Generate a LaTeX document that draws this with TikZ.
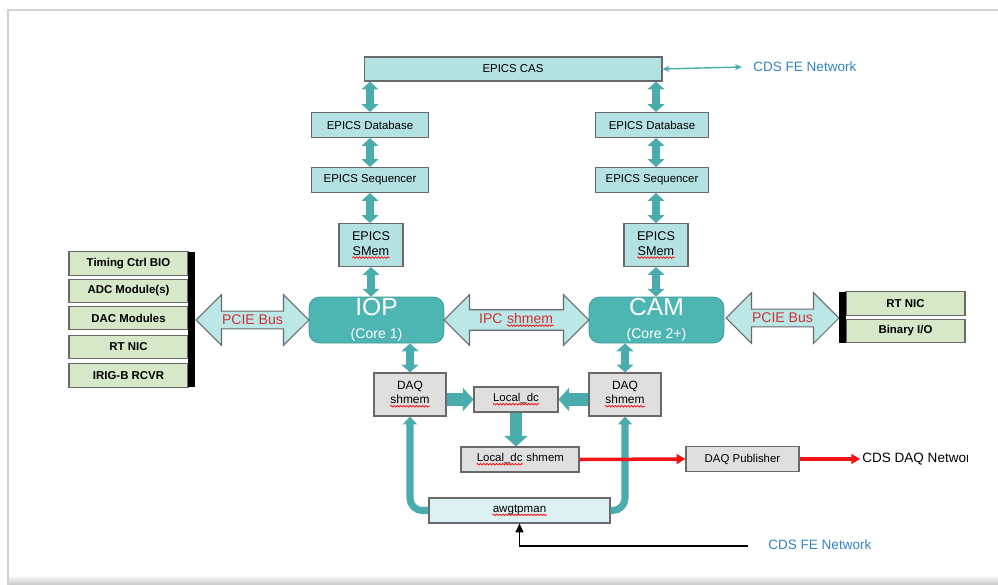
\documentclass[tikz,border=0pt]{standalone}
\usepackage{fontspec}
\setmainfont{Liberation Sans}
\usetikzlibrary{arrows.meta,shapes.arrows,decorations.pathmorphing}

\definecolor{pipeteal}{RGB}{74,172,172}
\definecolor{coreteal}{RGB}{77,181,178}
\definecolor{epicscyan}{RGB}{180,226,226}
\definecolor{buscyan}{RGB}{188,231,231}
\definecolor{awgcyan}{RGB}{221,241,243}
\definecolor{iogreen}{RGB}{214,232,200}
\definecolor{daqgray}{RGB}{223,223,223}
\definecolor{edgegray}{RGB}{105,105,105}
\definecolor{labelred}{RGB}{205,50,55}
\definecolor{netblue}{RGB}{50,130,200}
\definecolor{daqred}{RGB}{240,20,20}

% red spell-check wave under a word
\newcommand{\spellmark}[1]{\tikz[baseline=(w.base)]{\node[shape=rectangle,inner sep=0pt,draw=none,fill=none,minimum size=0pt] (w) {#1};
  \draw[red,line width=0.4pt,decorate,decoration={snake,amplitude=0.45pt,segment length=1.8pt}] ([yshift=-1.3pt]w.base west) -- ([yshift=-1.3pt]w.base east);}}

\begin{document}
\begin{tikzpicture}[x=0.02cm,y=-0.02cm,
  box/.style={draw=edgegray,line width=0.6pt,inner sep=0pt,font=\fontsize{6.5}{7.5}\selectfont},
  epics/.style={box,fill=epicscyan,minimum height=0.5cm},
  iobox/.style={box,fill=iogreen,minimum width=2.38cm,minimum height=0.47cm,font=\fontsize{6.5}{7.5}\selectfont\bfseries},
  daqbox/.style={box,fill=daqgray,align=center,minimum height=0.5cm,font=\fontsize{6.8}{8}\selectfont},
  core/.style={fill=coreteal,draw=coreteal!85!black,rounded corners=6pt,minimum width=2.7cm,minimum height=0.92cm,text=white,align=center,inner sep=0pt},
  bus/.style={double arrow,double arrow head extend=0.27cm,fill=buscyan,draw=edgegray,line width=0.6pt,minimum width=1.02cm,inner sep=1pt,text=labelred,font=\fontsize{8}{9}\selectfont},
  pipe/.style={draw=pipeteal,line width=4pt,{Triangle[width=9.5pt,length=4.5pt]}-{Triangle[width=9.5pt,length=4.5pt]}},
  fatpipe/.style={draw=pipeteal,line width=7pt,-{Triangle[width=13pt,length=6pt]}},
  feed/.style={draw=pipeteal,line width=4pt,rounded corners=7pt,-{Triangle[width=8pt,length=4.5pt]}},
  daqlink/.style={draw=daqred,line width=2pt,-{Triangle[width=5.5pt,length=5pt]}},
  net/.style={text=netblue,font=\fontsize{7.7}{9}\selectfont,anchor=west,inner sep=0pt}]
\useasboundingbox (0,0) rectangle (998,585);
% frame of the screenshot
\shade[top color=white,bottom color=black!22] (8,575) rectangle (998,585);
\draw[line width=1.4pt,black!18] (8,585) -- (8,10) -- (998,10);

% EPICS side
\node[epics,minimum width=5.96cm,minimum height=0.48cm] (cas) at (513,69) {EPICS CAS};
\node[epics,minimum width=2.34cm] (dbL) at (370,125) {EPICS Database};
\node[epics,minimum width=2.34cm] (seqL) at (370,180) {EPICS Sequencer};
\node[epics,minimum width=1.28cm,minimum height=0.86cm,align=center,font=\fontsize{7.2}{8.6}\selectfont] (smemL) at (371,245) {EPICS\\\spellmark{SMem}};
\node[epics,minimum width=2.26cm] (dbR) at (652,125) {EPICS Database};
\node[epics,minimum width=2.26cm] (seqR) at (652,180) {EPICS Sequencer};
\node[epics,minimum width=1.28cm,minimum height=0.86cm,align=center,font=\fontsize{7.2}{8.6}\selectfont] (smemR) at (656,245) {EPICS\\\spellmark{SMem}};
\node[net] (fetop) at (753,67) {CDS FE Network};

% cores
\node[core] (iop) at (376.5,320) {{\fontsize{14}{14}\selectfont IOP}\\[1pt]{\fontsize{8}{9}\selectfont (Core 1)}};
\node[core] (cam) at (656.5,320) {{\fontsize{14}{14}\selectfont CAM}\\[1pt]{\fontsize{8}{9}\selectfont (Core 2+)}};
\node[bus,minimum height=2.26cm] (pcieL) at (252.5,320) {PCIE Bus};
\node[bus,minimum height=2.9cm] (ipc) at (516.5,320) {IPC \spellmark{shmem}};
\node[bus,minimum height=2.26cm] (pcieR) at (782.5,318) {PCIE Bus};

% I/O cards
\node[iobox] (timing) at (128.5,263.5) {Timing Ctrl BIO};
\node[iobox] (adc) at (128.5,291) {ADC Module(s)};
\node[iobox] (dac) at (128.5,318) {DAC Modules};
\node[iobox] (nicL) at (128.5,347) {RT NIC};
\node[iobox] (irig) at (128.5,375.5) {IRIG-B RCVR};
\fill (188,252) rectangle (195,387);
\node[iobox] (nicR) at (905.5,303.5) {RT NIC};
\node[iobox] (bio) at (905.5,331) {Binary I/O};
\fill (839,292) rectangle (846,343);

% DAQ side
\node[daqbox,minimum width=1.44cm,minimum height=0.86cm] (daqL) at (410,394.5) {DAQ\\\spellmark{shmem}};
\node[daqbox,minimum width=1.44cm,minimum height=0.86cm] (daqR) at (625,394.5) {DAQ\\\spellmark{shmem}};
\node[daqbox,minimum width=1.68cm,font=\fontsize{6.5}{7.5}\selectfont] (localdc) at (516,399.5) {\spellmark{Local\_dc}};
\node[daqbox,minimum width=2.36cm,font=\fontsize{6.5}{7.5}\selectfont] (ldcshmem) at (520,459.5) {\spellmark{Local\_dc} shmem};
\node[daqbox,minimum width=2.26cm,font=\fontsize{6.5}{7.5}\selectfont] (daqpub) at (742.5,459) {DAQ Publisher};
\node[box,fill=awgcyan,minimum width=3.62cm,minimum height=0.5cm,font=\fontsize{6.6}{7.5}\selectfont] (awg) at (519.5,510.5) {\spellmark{awgtpman}};
\begin{scope}
\clip (0,0) rectangle (967,585);
\node[anchor=west,inner sep=0pt,font=\fontsize{7.7}{9}\selectfont] (daqnet) at (862,459) {CDS DAQ Network};
\end{scope}
\begin{scope}
\clip (0,0) rectangle (998,548);
\node[net] (febot) at (768,545) {CDS FE Network};
\end{scope}
\coordinate (feIn) at (748,546);

% connectors
\draw[pipe] (cas.south -| dbL.north) -- (dbL.north);
\draw[pipe] (dbL.south) -- (seqL.north);
\draw[pipe] (seqL.south) -- (seqL.south |- smemL.north);
\draw[pipe] (smemL.south) -- (smemL.south |- iop.north);
\draw[pipe] (cas.south -| smemR.north) -- (smemR.north |- dbR.north);
\draw[pipe] (dbR.south -| smemR.north) -- (smemR.north |- seqR.north);
\draw[pipe] (seqR.south -| smemR.north) -- (smemR.north);
\draw[pipe] (smemR.south) -- (smemR.south |- cam.north);
\draw[pipe] (iop.south -| daqL.north) -- (daqL.north);
\draw[pipe] (cam.south -| daqR.north) -- (daqR.north);
\draw[fatpipe] (daqL.east |- localdc) -- (localdc.west);
\draw[fatpipe] (daqR.west |- localdc) -- (localdc.east);
\draw[fatpipe] (localdc.south) -- (localdc.south |- ldcshmem.north);
\draw[feed] (awg.west) -| (daqL.south);
\draw[feed] (awg.east) -| (daqR.south);
\draw[daqlink] (ldcshmem.east) -- (daqpub.west);
\draw[daqlink] (daqpub.east) -- ([xshift=-1pt]daqnet.west);
\draw[line width=1pt,-{Triangle[width=4.5pt,length=5pt]}] (feIn) -| (awg.south);
\draw[pipeteal,line width=0.8pt,{Stealth[length=4pt,width=3.5pt]}-{Stealth[length=4pt,width=3.5pt]}] (cas.east) -- ([xshift=-0.22cm]fetop.west);
\end{tikzpicture}
\end{document}
